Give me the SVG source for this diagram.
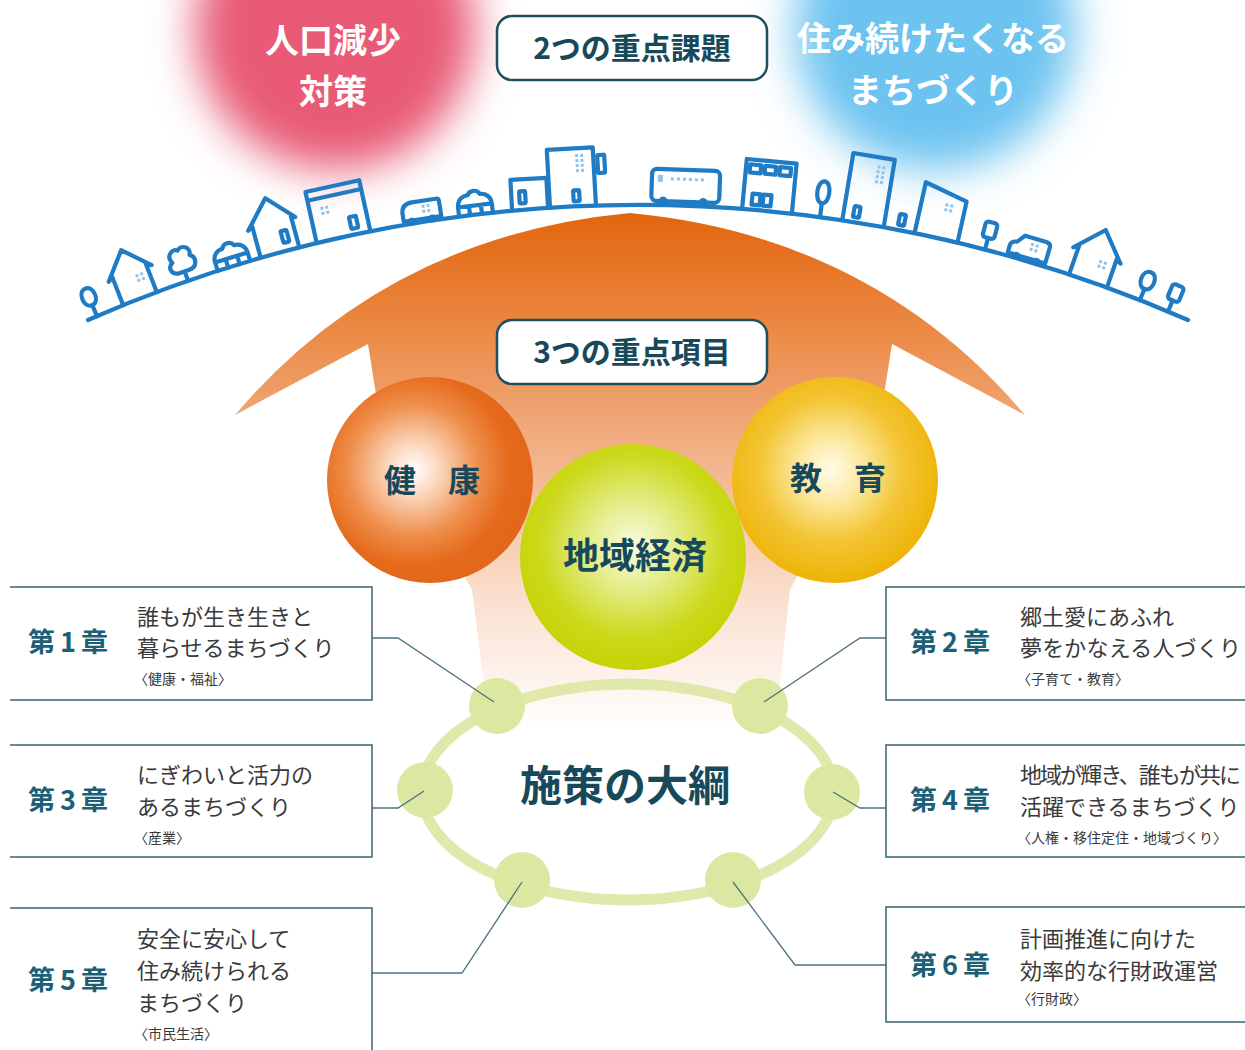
<svg xmlns="http://www.w3.org/2000/svg" width="1245" height="1050" viewBox="0 0 1245 1050">
<defs>
  <filter id="soft" x="-60%" y="-60%" width="220%" height="220%">
    <feGaussianBlur stdDeviation="22"/>
  </filter>
  <linearGradient id="beam" gradientUnits="userSpaceOnUse" x1="0" y1="213" x2="0" y2="730">
    <stop offset="0" stop-color="#e3650e"/>
    <stop offset="0.2" stop-color="#ea853d"/>
    <stop offset="0.4" stop-color="#f0a676"/>
    <stop offset="0.6" stop-color="#f6c8a9"/>
    <stop offset="0.75" stop-color="#fae0d0"/>
    <stop offset="0.88" stop-color="#fdf0e8"/>
    <stop offset="1" stop-color="#ffffff"/>
  </linearGradient>
  <radialGradient id="gOrange" cx="0.42" cy="0.45" r="0.58">
    <stop offset="0" stop-color="#ffffff"/>
    <stop offset="0.22" stop-color="#fbd6bb"/>
    <stop offset="0.55" stop-color="#ef8e4b"/>
    <stop offset="0.8" stop-color="#e56b1c"/>
    <stop offset="1" stop-color="#e3661a"/>
  </radialGradient>
  <radialGradient id="gYellow" cx="0.48" cy="0.45" r="0.58">
    <stop offset="0" stop-color="#fffbea"/>
    <stop offset="0.25" stop-color="#fdeaa5"/>
    <stop offset="0.6" stop-color="#f3c534"/>
    <stop offset="1" stop-color="#edb000"/>
  </radialGradient>
  <radialGradient id="gGreen" cx="0.5" cy="0.45" r="0.58">
    <stop offset="0" stop-color="#f8fbe2"/>
    <stop offset="0.3" stop-color="#e6ee92"/>
    <stop offset="0.7" stop-color="#ccd91c"/>
    <stop offset="1" stop-color="#c4d200"/>
  </radialGradient>
  <style>
    .h { font-family: "Noto Sans CJK JP", "Noto Sans", sans-serif; font-weight: 700; fill: #17495b; text-anchor: middle; }
    .w { fill: #ffffff; }
    .ch { font-family: "Noto Sans CJK JP", "Noto Sans", sans-serif; font-weight: 700; fill: #1c6078; font-size: 27px; }
    .t { font-family: "Noto Sans CJK JP", "Noto Sans", sans-serif; font-weight: 400; fill: #3a3a3a; font-size: 22px; }
    .s { font-size: 14px; }
    .box { fill: #ffffff; stroke: #3a6470; stroke-width: 1.5; }
    .tag { fill: #ffffff; stroke: #1f4f5d; stroke-width: 2.5; }
    .link { fill: none; stroke: #4c7380; stroke-width: 1.3; }
    .sky { fill: none; stroke: #1f7cc4; stroke-width: 4.2; stroke-linejoin: round; stroke-linecap: round; }
    .wheel { fill: #1f7cc4; }
    .dot { fill: #93c3e8; }
    .ring { fill: none; stroke: #e0e9ab; stroke-width: 11; }
    .node { fill: #dce8a1; }
  </style>
  <g id="dots4">
    <rect class="dot" x="0" y="0" width="3" height="3"/>
    <rect class="dot" x="5" y="0" width="3" height="3"/>
    <rect class="dot" x="0" y="5" width="3" height="3"/>
    <rect class="dot" x="5" y="5" width="3" height="3"/>
  </g>
  <path id="treeO" d="M0,0 V-12 C-9,-12 -9,-30 0,-30 C9,-30 9,-12 0,-12"/>
  <path id="bush" d="M-17,0 V-9 H17 V0 M-17,-9 C-17,-16 -12,-20 -6,-20 C-4,-25 4,-25 6,-20 C12,-20 17,-16 17,-9 M-6,-9 V0 M6,-9 V0"/>
</defs>

<!-- two soft issue blobs -->
<g id="issue-population">
  <circle cx="335" cy="30" r="140" fill="#e85a75" filter="url(#soft)"/>
  <text class="h w" x="333" y="53" font-size="34">人口減少</text>
  <text class="h w" x="333" y="104" font-size="34">対策</text>
</g>
<g id="issue-living">
  <circle cx="935" cy="30" r="140" fill="#6cc3f0" filter="url(#soft)"/>
  <text class="h w" x="933" y="51" font-size="34">住み続けたくなる</text>
  <text class="h w" x="933" y="103" font-size="34">まちづくり</text>
</g>
<g id="tag-issues">
  <rect class="tag" x="497" y="16" width="270" height="64" rx="15"/>
  <text class="h" x="632" y="59" font-size="30">2つの重点課題</text>
</g>

<!-- big upward arrow with fading shaft -->
<path id="arrow" fill="url(#beam)" d="M630,213 Q387,236 235,415 L368,344 L380,420 L472,590 L490,730 L775,730 L790,590 L880,420 L892,344 L1025,415 Q873,236 630,213 Z"/>

<!-- townscape along the arc -->
<g id="town" class="sky">
  <path d="M88,320 A1372,1372 0 0 1 1188,320"/>
  <g transform="translate(97,316.2) rotate(-23.2)"><use href="#treeO"/></g>
  <g transform="translate(140,298.6) rotate(-21.3)">
    <path d="M-18,0 V-30 L-23,-27 L0,-52 L23,-27 L18,-30 V0"/>
    <use href="#dots4" x="4" y="-24" style="stroke:none"/>
  </g>
  <g transform="translate(188,280.8) rotate(-19.2)">
    <path d="M0,0 V-10 M-5,-10 C-14,-10 -15,-19 -9,-22 C-13,-30 -5,-36 0,-32 C5,-37 14,-31 10,-24 C16,-20 14,-10 5,-10 Z"/>
  </g>
  <g transform="translate(234,266) rotate(-17.1)"><use href="#bush"/></g>
  <g transform="translate(278,252.8) rotate(-15.2)">
    <path d="M-18,0 V-32 L-23,-29 L2,-56 L26,-30 L22,-32 V0"/>
    <rect x="8" y="-20" width="6" height="12" rx="1"/>
  </g>
  <g transform="translate(343,237) rotate(-12.4)">
    <path d="M-27,0 V-52 H28 V0 M-27,-43 H28"/>
    <rect x="10" y="-18" width="7" height="12" rx="1"/>
    <use href="#dots4" x="-16" y="-34" style="stroke:none"/>
  </g>
  <g transform="translate(424,221.8) rotate(-8.9)">
    <path d="M-20,-3 V-12 Q-19,-21 -9,-21 H15 Q18,-21 18,-18 V-3 Z"/>
    <circle class="wheel" cx="-12" cy="-2" r="4" style="stroke:none"/>
    <circle class="wheel" cx="9" cy="-2" r="4" style="stroke:none"/>
    <use href="#dots4" x="0" y="-17" style="stroke:none"/>
  </g>
  <g transform="translate(476,214.4) rotate(-6.8)"><use href="#bush"/></g>
  <g transform="translate(562,207.1) rotate(-3.2)">
    <path d="M-50,0 V-30 H-14 V-2"/>
    <rect x="-42" y="-18" width="6" height="12" rx="1"/>
    <path d="M-12,0 V-58 H34 V0"/>
    <rect x="12" y="-16" width="6" height="11" rx="1"/>
    <use href="#dots4" x="16" y="-52" style="stroke:none"/>
    <use href="#dots4" x="16" y="-42" style="stroke:none"/>
    <rect x="38" y="-50" width="7" height="18" rx="1"/>
  </g>
  <g transform="translate(685,205.8) rotate(2)">
    <rect x="-34" y="-36" width="68" height="32" rx="5"/>
    <rect class="dot" x="-28" y="-30" width="5" height="7" style="stroke:none"/>
    <rect class="dot" x="-15" y="-28" width="3" height="3" style="stroke:none"/>
    <rect class="dot" x="-9" y="-28" width="3" height="3" style="stroke:none"/>
    <rect class="dot" x="-3" y="-28" width="3" height="3" style="stroke:none"/>
    <rect class="dot" x="3" y="-28" width="3" height="3" style="stroke:none"/>
    <rect class="dot" x="9" y="-28" width="3" height="3" style="stroke:none"/>
    <rect class="dot" x="15" y="-28" width="3" height="3" style="stroke:none"/>
    <circle class="wheel" cx="-22" cy="-4" r="4.5" style="stroke:none"/>
    <circle class="wheel" cx="18" cy="-4" r="4.5" style="stroke:none"/>
  </g>
  <g transform="translate(767,211.1) rotate(5.4)">
    <path d="M-25,0 V-50 H25 V0"/>
    <rect x="-21" y="-45" width="11" height="8"/>
    <rect x="-6" y="-45" width="11" height="8"/>
    <rect x="9" y="-45" width="11" height="8"/>
    <rect x="-16" y="-16" width="8" height="11"/>
    <rect x="-5" y="-16" width="8" height="11"/>
  </g>
  <g transform="translate(820,217.1) rotate(7.6)">
    <path d="M0,0 V-14 C-8,-14 -8,-36 0,-36 C8,-36 8,-14 0,-14"/>
  </g>
  <g transform="translate(862,223.4) rotate(9.4)">
    <path d="M-20,0 V-68 H22 V0"/>
    <use href="#dots4" x="6" y="-60" style="stroke:none"/>
    <use href="#dots4" x="6" y="-50" style="stroke:none"/>
    <rect x="-10" y="-16" width="6" height="11" rx="1"/>
  </g>
  <g transform="translate(900,230.2) rotate(11)">
    <rect x="-3" y="-16" width="6" height="11" rx="1"/>
  </g>
  <g transform="translate(936,237.8) rotate(12.6)">
    <path d="M-22,0 V-52 L22,-42 V0"/>
    <use href="#dots4" x="2" y="-36" style="stroke:none"/>
  </g>
  <g transform="translate(985,249.6) rotate(14.7)">
    <path d="M0,0 V-12"/>
    <rect x="-6" y="-28" width="12" height="16" rx="3"/>
  </g>
  <g transform="translate(1028,261.5) rotate(16.5)">
    <path d="M-22,-3 V-11 Q-22,-15 -16,-16 L-10,-24 H12 Q17,-24 17,-19 V-3 Z"/>
    <circle class="wheel" cx="-13" cy="-2" r="4" style="stroke:none"/>
    <circle class="wheel" cx="8" cy="-2" r="4" style="stroke:none"/>
    <use href="#dots4" x="-2" y="-19" style="stroke:none"/>
  </g>
  <g transform="translate(1088,281) rotate(19.2)">
    <path d="M-20,0 V-30 L-25,-27 L0,-54 L25,-27 L20,-30 V0"/>
    <use href="#dots4" x="4" y="-24" style="stroke:none"/>
  </g>
  <g transform="translate(1140,300.1) rotate(21.5)"><use href="#treeO"/></g>
  <g transform="translate(1168,311.5) rotate(22.7)">
    <path d="M0,0 V-12"/>
    <rect x="-6" y="-28" width="12" height="16" rx="3"/>
  </g>
</g>

<g id="tag-items">
  <rect class="tag" x="497" y="320" width="270" height="64" rx="15"/>
  <text class="h" x="632" y="363" font-size="30">3つの重点項目</text>
</g>

<!-- three key items -->
<g id="item-health">
  <circle cx="430" cy="480" r="103" fill="url(#gOrange)"/>
  <text class="h" x="432" y="492" font-size="32">健　康</text>
</g>
<g id="item-education">
  <circle cx="835" cy="480" r="103" fill="url(#gYellow)"/>
  <text class="h" x="838" y="490" font-size="32">教　育</text>
</g>
<g id="item-economy">
  <circle cx="633" cy="557" r="113" fill="url(#gGreen)"/>
  <text class="h" x="635" y="569" font-size="36">地域経済</text>
</g>

<!-- policy outline ring -->
<g id="outline">
  <ellipse class="ring" cx="628" cy="792" rx="206" ry="108"/>
  <circle class="node" cx="497" cy="706" r="28"/>
  <circle class="node" cx="760" cy="706" r="28"/>
  <circle class="node" cx="425" cy="790" r="28"/>
  <circle class="node" cx="832" cy="792" r="28"/>
  <circle class="node" cx="522" cy="880" r="28"/>
  <circle class="node" cx="733" cy="880" r="28"/>
  <text class="h" x="625" y="801" font-size="42">施策の大綱</text>
</g>

<!-- leader lines from chapters to the ring -->
<g id="connectors">
  <path class="link" d="M372,638 H398 L494,702"/>
  <path class="link" d="M886,638 H860 L764,702"/>
  <path class="link" d="M372,808 H398 L424,791"/>
  <path class="link" d="M886,808 H860 L833,792"/>
  <path class="link" d="M372,973 H462 L522,882"/>
  <path class="link" d="M886,965 H795 L733,882"/>
</g>

<!-- chapter panels -->
<g id="ch1">
  <path class="box" d="M10,587 H372 V700 H10"/>
  <text class="ch" x="28" y="652" textLength="80" lengthAdjust="spacing">第1章</text>
  <text class="t" x="137" y="625">誰もが生き生きと</text>
  <text class="t" x="137" y="656">暮らせるまちづくり</text>
  <text class="t s" x="134" y="684">〈健康・福祉〉</text>
</g>
<g id="ch2">
  <path class="box" d="M1245,587 H886 V700 H1245"/>
  <text class="ch" x="910" y="652" textLength="80" lengthAdjust="spacing">第2章</text>
  <text class="t" x="1020" y="625">郷土愛にあふれ</text>
  <text class="t" x="1020" y="656" textLength="221" lengthAdjust="spacing">夢をかなえる人づくり</text>
  <text class="t s" x="1017" y="684">〈子育て・教育〉</text>
</g>
<g id="ch3">
  <path class="box" d="M10,745 H372 V857 H10"/>
  <text class="ch" x="28" y="810" textLength="80" lengthAdjust="spacing">第3章</text>
  <text class="t" x="137" y="783">にぎわいと活力の</text>
  <text class="t" x="137" y="815">あるまちづくり</text>
  <text class="t s" x="134" y="843">〈産業〉</text>
</g>
<g id="ch4">
  <path class="box" d="M1245,745 H886 V857 H1245"/>
  <text class="ch" x="910" y="810" textLength="80" lengthAdjust="spacing">第4章</text>
  <text class="t" x="1020" y="783" textLength="221" lengthAdjust="spacing">地域が輝き、誰もが共に</text>
  <text class="t" x="1020" y="815">活躍できるまちづくり</text>
  <text class="t s" x="1017" y="843">〈人権・移住定住・地域づくり〉</text>
</g>
<g id="ch5">
  <path class="box" d="M10,908 H372 V1050"/>
  <text class="ch" x="28" y="990" textLength="80" lengthAdjust="spacing">第5章</text>
  <text class="t" x="137" y="947">安全に安心して</text>
  <text class="t" x="137" y="979">住み続けられる</text>
  <text class="t" x="137" y="1011">まちづくり</text>
  <text class="t s" x="134" y="1039">〈市民生活〉</text>
</g>
<g id="ch6">
  <path class="box" d="M1245,907 H886 V1022 H1245"/>
  <text class="ch" x="910" y="975" textLength="80" lengthAdjust="spacing">第6章</text>
  <text class="t" x="1020" y="947">計画推進に向けた</text>
  <text class="t" x="1020" y="979">効率的な行財政運営</text>
  <text class="t s" x="1017" y="1004">〈行財政〉</text>
</g>
</svg>
